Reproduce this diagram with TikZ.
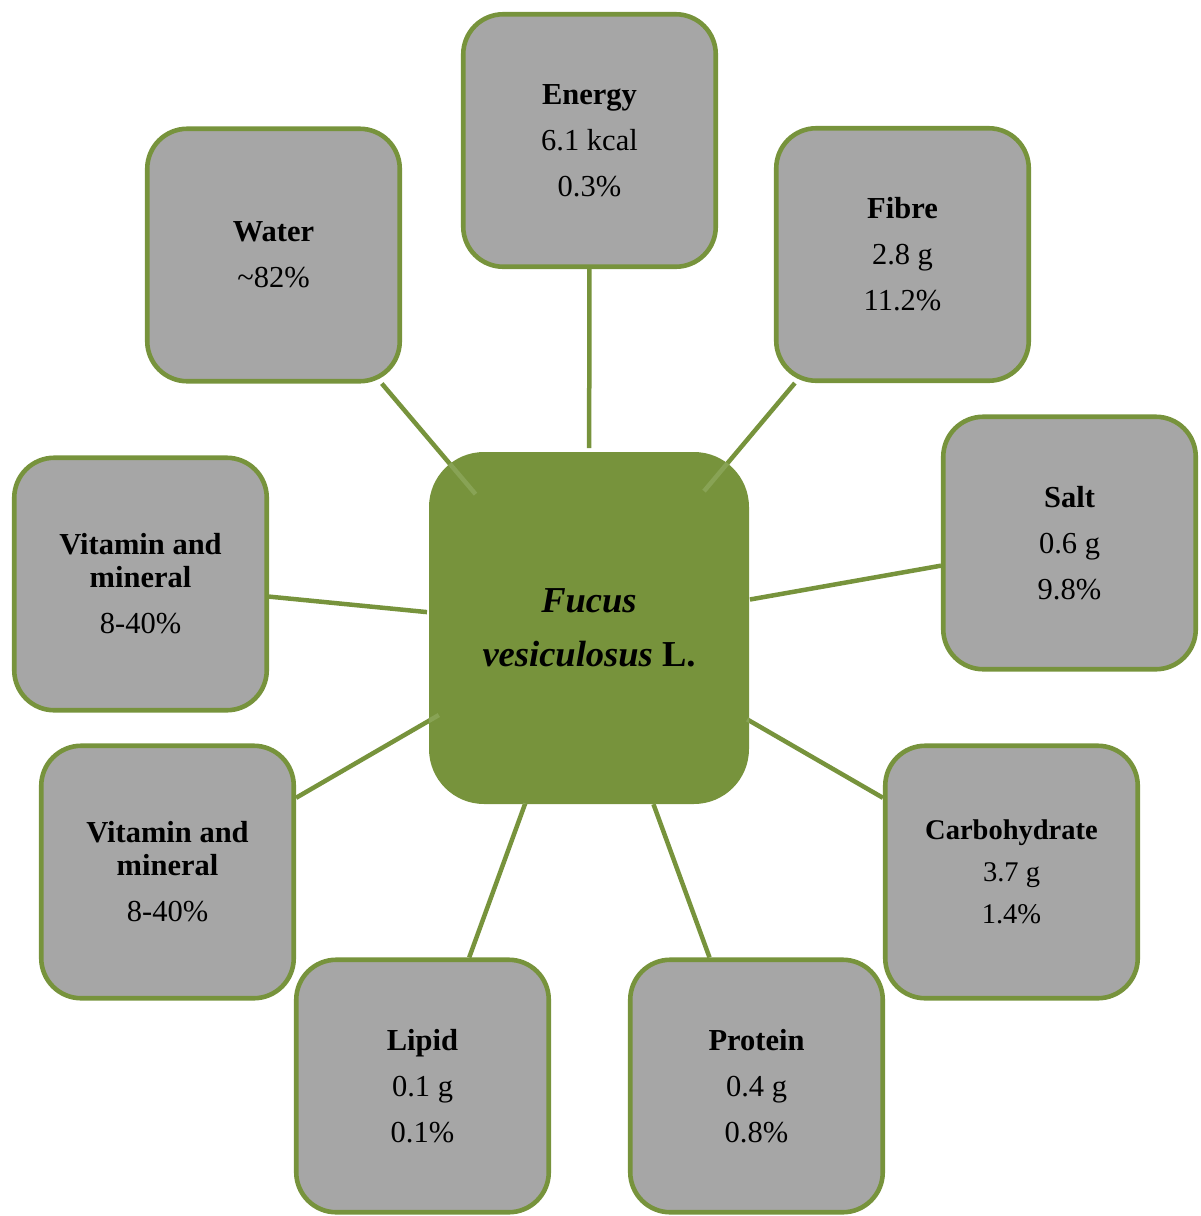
\documentclass[tikz,border=0pt]{standalone}
\usepackage{fontspec}
\setmainfont{Liberation Serif}
\definecolor{leaf}{HTML}{77933C}
\definecolor{boxgray}{HTML}{A6A6A6}
\definecolor{leaflight}{HTML}{88A355}
\begin{document}
\begin{tikzpicture}[x=1pt,y=-1pt,
  outerbox/.style={draw=leaf, fill=boxgray, line width=4.6pt, rounded corners=40pt,
    minimum width=252.5pt, minimum height=252.5pt, inner sep=0pt, align=center,
    font=\fontsize{30.5}{46}\selectfont},
  hub/.style={fill=leaf, rounded corners=55pt, minimum width=320pt, minimum height=352pt,
    inner sep=0pt, align=center, font=\fontsize{36.5}{54}\selectfont\bfseries},
  link/.style={draw=leaf, line width=4.5pt}]
\useasboundingbox (0,0) rectangle (1201,1216);

\node[hub] (hub) at (589,628) {\itshape Fucus\\\itshape vesiculosus\/ \upshape L.};

\node[outerbox] (energy) at (589.5,140.5) {\textbf{Energy}\\6.1 kcal\\0.3\%};
\node[outerbox] (water) at (273.5,255) {\textbf{Water}\\\textasciitilde82\%};
\node[outerbox] (fibre) at (902.5,254.5) {\textbf{Fibre}\\2.8 g\\11.2\%};
\node[outerbox] (salt) at (1069.5,543) {\textbf{Salt}\\0.6 g\\9.8\%};
\node[outerbox] (vitA) at (140.5,584) {\textbf{Vitamin and}\\[-13pt]\textbf{mineral}\\8-40\%};
\node[outerbox] (vitB) at (167.5,872) {\textbf{Vitamin and}\\[-13pt]\textbf{mineral}\\8-40\%};
\node[outerbox, font=\fontsize{28.5}{42}\selectfont] (carbo) at (1011.5,872) {\textbf{Carbohydrate}\\3.7 g\\1.4\%};
\node[outerbox] (lipid) at (422.5,1086) {\textbf{Lipid}\\0.1 g\\0.1\%};
\node[outerbox] (protein) at (756.5,1086) {\textbf{Protein}\\0.4 g\\0.8\%};

\foreach \n/\d in {energy/180, water/175.5, fibre/178.8, salt/163.4, vitA/162.8,
                   vitB/173.6, carbo/182.7, lipid/186.6, protein/187.6}
  \draw[link, shorten >=\d pt] (\n) -- (hub.center);

\begin{scope}
  \clip[rounded corners=55pt] (hub.north west) rectangle (hub.south east);
  \foreach \n/\d in {energy/180, water/175.5, fibre/178.8, salt/163.4, vitA/162.8,
                     vitB/173.6, carbo/182.7, lipid/186.6, protein/187.6}
    \draw[line width=4.5pt, draw=leaflight, shorten >=\d pt] (\n) -- (hub.center);
\end{scope}
\end{tikzpicture}
\end{document}
